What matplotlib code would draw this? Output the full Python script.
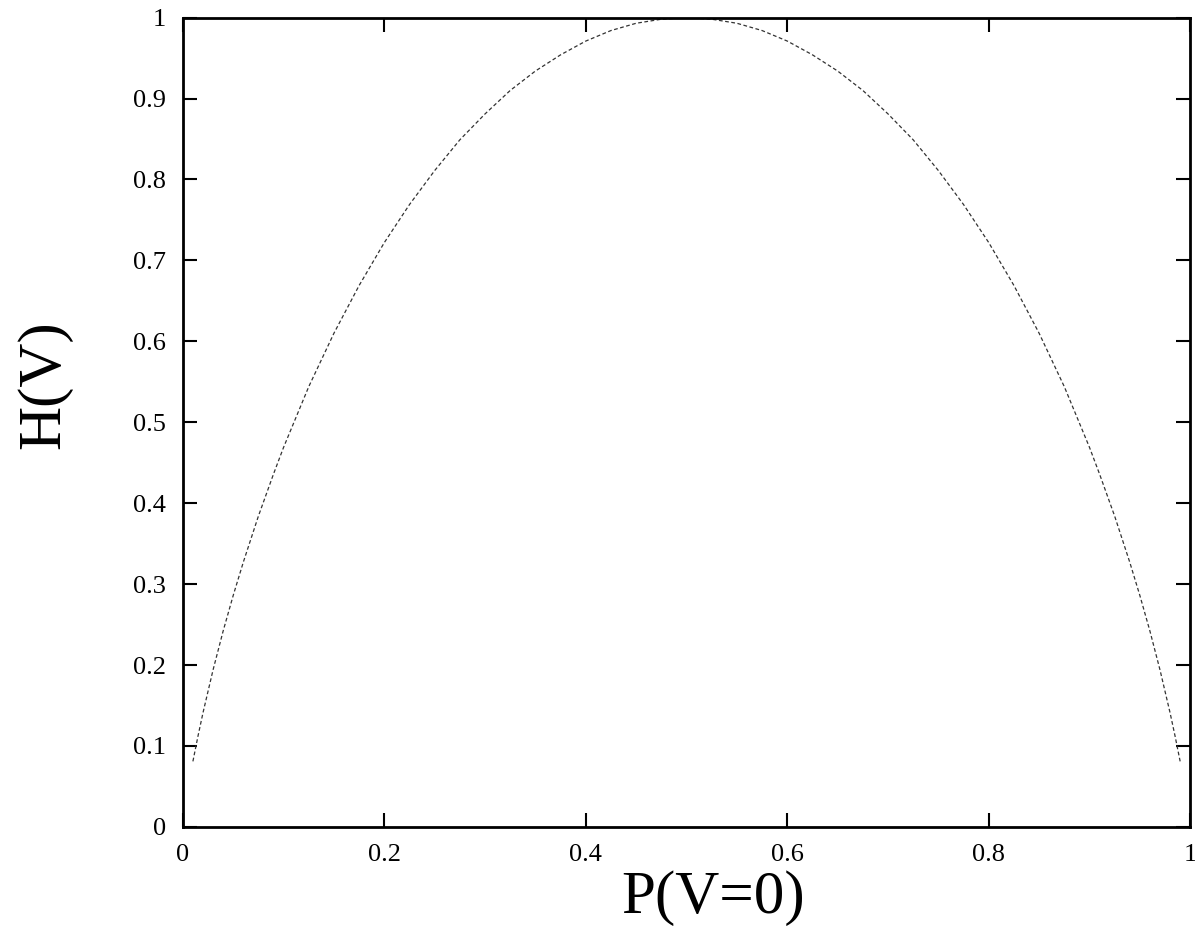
import matplotlib
matplotlib.use('Agg')
import matplotlib.pyplot as plt

# values
p_vals = [0.01, 0.015, 0.02, 0.03, 0.04, 0.05, 0.06, 0.075, 0.09, 0.1, 0.125, 0.15,
          0.175, 0.2, 0.225, 0.25, 0.275, 0.3, 0.325, 0.35, 0.375, 0.4, 0.425, 0.45,
          0.475, 0.5, 0.525, 0.55, 0.575, 0.6, 0.625, 0.65, 0.675, 0.7, 0.725, 0.75,
          0.775, 0.8, 0.825, 0.85, 0.875, 0.9, 0.91, 0.925, 0.94, 0.95, 0.96, 0.97,
          0.98, 0.985, 0.99]
h_vals = [0.081, 0.112, 0.141, 0.194, 0.242, 0.286, 0.327, 0.384, 0.436, 0.469,
          0.544, 0.610, 0.669, 0.722, 0.769, 0.811, 0.849, 0.881, 0.910, 0.934,
          0.954, 0.971, 0.984, 0.993, 0.998, 1.0, 0.998, 0.993, 0.984, 0.971,
          0.954, 0.934, 0.910, 0.881, 0.849, 0.811, 0.769, 0.722, 0.669, 0.610,
          0.544, 0.469, 0.436, 0.384, 0.327, 0.286, 0.242, 0.194, 0.141, 0.112,
          0.081]

x_ticks = [0, 0.2, 0.4, 0.6, 0.8, 1]
x_labels = ['0', '0.2', '0.4', '0.6', '0.8', '1']
y_ticks = [0, 0.1, 0.2, 0.3, 0.4, 0.5, 0.6, 0.7, 0.8, 0.9, 1]
y_labels = ['0', '0.1', '0.2', '0.3', '0.4', '0.5', '0.6', '0.7', '0.8', '0.9', '1']

plt.rcParams['font.family'] = ['Liberation Serif', 'DejaVu Serif']

fig = plt.figure(figsize=(11.95, 9.26), dpi=100)
ax = fig.add_axes([0.153, 0.107, 0.843, 0.874])

ax.plot(p_vals, h_vals, color='#333333', linewidth=0.9, dashes=(3, 2))

ax.set_xlim(0, 1)
ax.set_ylim(0, 1)
ax.set_xticks(x_ticks)
ax.set_xticklabels(x_labels)
ax.set_yticks(y_ticks)
ax.set_yticklabels(y_labels)
ax.tick_params(direction='in', length=10, width=1.5, labelsize=19,
               top=True, right=True, pad=12)
for s in ax.spines.values():
    s.set_linewidth(2)

ax.set_xlabel('P(V=0)', fontsize=44)
ax.set_ylabel('H(V)', fontsize=44)
ax.xaxis.set_label_coords(0.526, -0.054)
ax.yaxis.set_label_coords(-0.11, 0.546)

fig.savefig('out.png', dpi=100)
